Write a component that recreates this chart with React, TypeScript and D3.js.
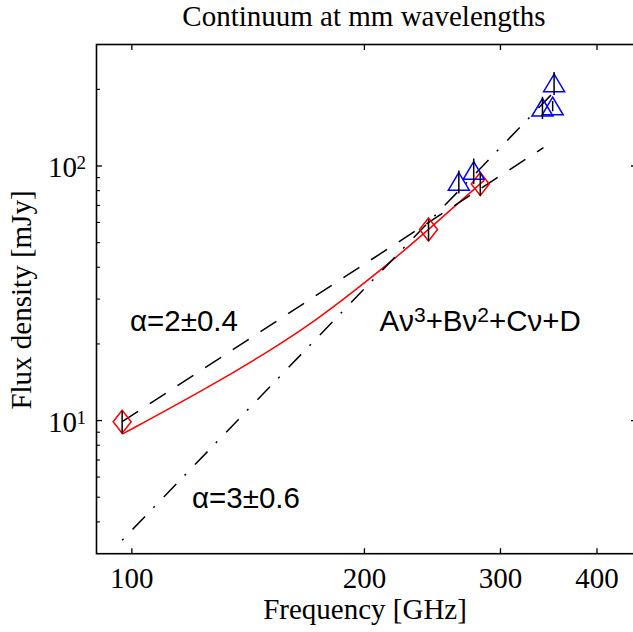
import React from 'react';
import * as d3 from 'd3';

// ---- data ----
const xTicks = [100, 200, 300, 400];
const yMajorTicks = [10, 100];
const yMinorTicks = [4, 5, 6, 7, 8, 9, 20, 30, 40, 50, 60, 70, 80, 90, 200];

// mm points (red diamonds)
const mmFreq = [97.15, 242.1, 282.5];
const mmFlux = [9.9, 56.3, 85];
const mmErr = [1.0, 5.5, 8.7];

// submm points (blue triangles)
const subFreq = [265, 277, 340, 350.5, 352];
const subFlux = [87, 96, 170, 172, 212];
const subErr = [9, 11, 17, 8, 22];

// power-law fits (straight in log-log)
const alpha2Freq = [97.15, 341];
const alpha2Flux = [9.9, 118];
const alpha3Freq = [97.15, 350];
const alpha3Flux = [3.39, 192];

// cubic polynomial fit
const polyFreq = [97.15, 126.2, 151.7, 173.5, 194.5, 218, 242.1, 286];
const polyFlux = [8.84, 13.6, 19.0, 24.9, 32.5, 42.8, 56.3, 88];

const W = 633;
const H = 632;
const M = { left: 96.5, right: 636.5, top: 44.5, bottom: 553.7 };

const serif = '"Liberation Serif", "Times New Roman", serif';
const sans = '"Liberation Sans", Arial, sans-serif';

export default function App() {
  const x = d3.scaleLog().domain([90, 450]).range([M.left, M.right]);
  const y = d3.scaleLog().domain([3, 300]).range([M.bottom, M.top]);

  const line = d3
    .line<[number, number]>()
    .x((d) => x(d[0]))
    .y((d) => y(d[1]));
  const smooth = d3
    .line<[number, number]>()
    .x((d) => x(d[0]))
    .y((d) => y(d[1]))
    .curve(d3.curveBasis);

  const zip = (a: number[], b: number[]) => a.map((v, i) => [v, b[i]] as [number, number]);

  const tri = (cx: number, cy: number) =>
    `M${cx},${cy - 8.8}L${cx + 10.5},${cy + 8.8}L${cx - 10.5},${cy + 8.8}Z`;
  const dia = (cx: number, cy: number) =>
    `M${cx},${cy - 11.5}L${cx + 9},${cy}L${cx},${cy + 11.5}L${cx - 9},${cy}Z`;

  const tickLen = 5.5;
  const minorLen = 3.5;

  return (
    <svg
      width={W}
      height={H}
      style={{ position: 'absolute', left: 0, top: 0, background: '#fff' }}
    >
      <rect x={0} y={0} width={W} height={H} fill="#fff" />
      {/* title */}
      <text x={364} y={26} textAnchor="middle" fontFamily={serif} fontSize={29}>
        Continuum at mm wavelengths
      </text>

      <clipPath id="plotclip">
        <rect x={M.left} y={M.top} width={M.right - M.left} height={M.bottom - M.top} />
      </clipPath>

      <g clipPath="url(#plotclip)">
        {/* cubic fit */}
        <path
          d={smooth(zip(polyFreq, polyFlux)) || ''}
          fill="none"
          stroke="#ff0000"
          strokeWidth={1.5}
        />
        {/* alpha=2 dashed */}
        <path
          d={line(zip(alpha2Freq, alpha2Flux)) || ''}
          fill="none"
          stroke="#000"
          strokeWidth={1.5}
          strokeDasharray="19 14"
        />
        {/* alpha=3 dash-dot */}
        <path
          d={line(zip(alpha3Freq, alpha3Flux)) || ''}
          fill="none"
          stroke="#000"
          strokeWidth={1.5}
          strokeDasharray="2 13 18 12"
        />
        {/* markers */}
        {mmFreq.map((f, i) => (
          <path
            key={'d' + i}
            d={dia(x(f), y(mmFlux[i]))}
            fill="none"
            stroke="#ff0000"
            strokeWidth={1.5}
          />
        ))}
        {subFreq.map((f, i) => (
          <path
            key={'t' + i}
            d={tri(x(f), y(subFlux[i]))}
            fill="none"
            stroke="#0000ff"
            strokeWidth={1.5}
          />
        ))}
        {/* error bars */}
        {mmFreq.map((f, i) => (
          <line
            key={'de' + i}
            x1={x(f)}
            x2={x(f)}
            y1={y(mmFlux[i] - mmErr[i])}
            y2={y(mmFlux[i] + mmErr[i])}
            stroke="#000"
            strokeWidth={1.5}
          />
        ))}
        {subFreq.map((f, i) => (
          <line
            key={'te' + i}
            x1={x(f)}
            x2={x(f)}
            y1={y(subFlux[i] - subErr[i])}
            y2={y(subFlux[i] + subErr[i])}
            stroke="#000"
            strokeWidth={1.5}
          />
        ))}
      </g>

      {/* axes box */}
      <rect
        x={M.left}
        y={M.top}
        width={M.right - M.left}
        height={M.bottom - M.top}
        fill="none"
        stroke="#000"
        strokeWidth={1.6}
      />

      {/* x ticks */}
      {xTicks.map((t) => (
        <g key={'xt' + t}>
          <line x1={x(t)} x2={x(t)} y1={M.bottom} y2={M.bottom - tickLen} stroke="#000" strokeWidth={1.3} />
          <line x1={x(t)} x2={x(t)} y1={M.top} y2={M.top + tickLen} stroke="#000" strokeWidth={1.3} />
          <text x={x(t)} y={588} textAnchor="middle" fontFamily={serif} fontSize={29}>
            {t}
          </text>
        </g>
      ))}

      {/* y ticks */}
      {yMajorTicks.map((t) => (
        <g key={'ym' + t}>
          <line x1={M.left} x2={M.left + tickLen} y1={y(t)} y2={y(t)} stroke="#000" strokeWidth={1.3} />
          <line x1={M.right} x2={M.right - tickLen} y1={y(t)} y2={y(t)} stroke="#000" strokeWidth={1.3} />
          <text x={77} y={y(t) + 11} textAnchor="end" fontFamily={serif} fontSize={29}>
            10
          </text>
          <text x={76.5} y={y(t) + 3.3} textAnchor="start" fontFamily={serif} fontSize={19}>
            {Math.round(Math.log10(t))}
          </text>
        </g>
      ))}
      {yMinorTicks.map((t) => (
        <g key={'yn' + t}>
          <line x1={M.left} x2={M.left + minorLen} y1={y(t)} y2={y(t)} stroke="#000" strokeWidth={1.1} />
          <line x1={M.right} x2={M.right - minorLen} y1={y(t)} y2={y(t)} stroke="#000" strokeWidth={1.1} />
        </g>
      ))}

      {/* axis labels */}
      <text x={365} y={619} textAnchor="middle" fontFamily={serif} fontSize={29}>
        Frequency [GHz]
      </text>
      <text
        transform={`translate(31, 300) rotate(-90)`}
        textAnchor="middle"
        fontFamily={serif}
        fontSize={29}
      >
        Flux density [mJy]
      </text>

      {/* annotations */}
      <text x={130} y={330.7} fontFamily={sans} fontSize={29.5}>
        α=2±0.4
      </text>
      <text x={192} y={508.3} fontFamily={sans} fontSize={29.5}>
        α=3±0.6
      </text>
      <text x={379.5} y={330.7} fontFamily={sans} fontSize={29.5}>
        Aν<tspan dy={-9} fontSize={21}>3</tspan>
        <tspan dy={9}>+Bν</tspan>
        <tspan dy={-9} fontSize={21}>2</tspan>
        <tspan dy={9}>+Cν+D</tspan>
      </text>
    </svg>
  );
}
